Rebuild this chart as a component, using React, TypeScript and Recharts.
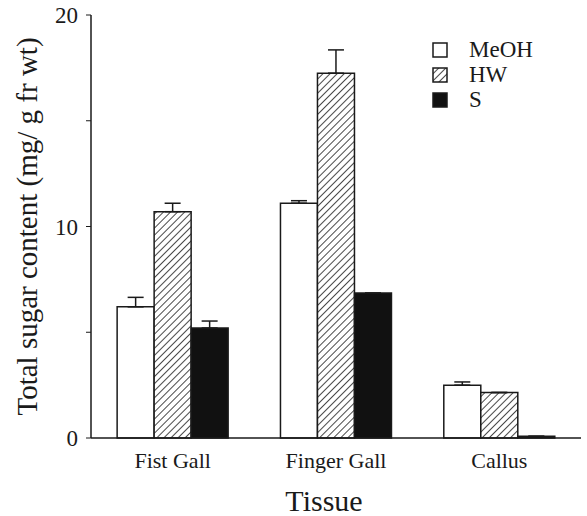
import React from 'react';
import { BarChart, Bar, XAxis, YAxis, ErrorBar } from 'recharts';

const categories = ['Fist Gall', 'Finger Gall', 'Callus'];
const meoh = [6.2, 11.1, 2.5];
const meohErr = [0.45, 0.12, 0.15];
const hw = [10.7, 17.25, 2.15];
const hwErr = [0.4, 1.1, 0];
const sugarS = [5.2, 6.85, 0.08];
const sErr = [0.33, 0, 0];
const yTicks = [0, 5, 10, 15, 20];

const series = [
  { key: 'meoh', name: 'MeOH', fill: '#fff' },
  { key: 'hw', name: 'HW', fill: 'url(#hatch)' },
  { key: 's', name: 'S', fill: '#111' },
];

const data = categories.map((c, i) => ({
  tissue: c,
  meoh: meoh[i],
  meohErr: [0, meohErr[i]],
  hw: hw[i],
  hwErr: [0, hwErr[i]],
  s: sugarS[i],
  sErr: [0, sErr[i]],
}));

const font = '"Liberation Serif", "DejaVu Serif", serif';
const ink = '#1a1a1a';

function Hatch({ id }: { id: string }) {
  return (
    <pattern id={id} width="5" height="5" patternUnits="userSpaceOnUse" patternTransform="rotate(45)">
      <rect width="5" height="5" fill="#fff" />
      <line x1="0" y1="0" x2="0" y2="5" stroke={ink} strokeWidth="1.6" />
    </pattern>
  );
}

function YLabel(props: any) {
  const vb = props.viewBox;
  const cx = vb.x + 27;
  const cy = vb.y + vb.height / 2;
  return (
    <text x={cx} y={cy} transform={`rotate(-90 ${cx} ${cy})`} textAnchor="middle" dominantBaseline="central"
      style={{ fontFamily: font, fontSize: 29, fill: ink }}>
      Total sugar content (mg/ g fr wt)
    </text>
  );
}

// x-axis title sits a little left of the plot centre in the original
function XLabel(props: any) {
  const vb = props.viewBox;
  return (
    <text x={vb.x + vb.width / 2 - 12} y={vb.y + vb.height - 5} textAnchor="middle"
      style={{ fontFamily: font, fontSize: 30, fill: ink }}>
      Tissue
    </text>
  );
}

export default function App() {
  return (
    <div style={{ position: 'absolute', left: 0, top: 0, width: 587, height: 516, background: '#fff' }}>
      <BarChart width={587} height={516} data={data} margin={{ top: 15, right: 6, left: 0, bottom: 0 }}
        barCategoryGap="16%" barGap={0}>
        <defs>
          <Hatch id="hatch" />
        </defs>
        <XAxis dataKey="tissue" height={78} tickSize={0} tickMargin={14} axisLine={{ stroke: ink, strokeWidth: 1.5 }}
          tick={{ fill: ink, fontSize: 22, fontFamily: font }}
          label={{ content: XLabel }} />
        <XAxis xAxisId="top" orientation="top" dataKey="tissue" height={0} tick={false} tickLine={false}
          axisLine={{ stroke: ink, strokeWidth: 1.5 }} />
        <YAxis yAxisId="l" width={91} domain={[0, 20]} ticks={yTicks} tickSize={5} tickMargin={8}
          interval={0} axisLine={{ stroke: ink, strokeWidth: 1.5 }} tickLine={{ stroke: ink }}
          tickFormatter={(v: number) => (v % 10 === 0 ? String(v) : '')}
          tick={{ fill: ink, fontSize: 23, fontFamily: font }}
          label={{ content: YLabel }} />
        <YAxis yAxisId="r" orientation="right" width={0} domain={[0, 20]} tick={false} tickLine={false}
          axisLine={{ stroke: ink, strokeWidth: 1.5 }} />
        {series.map((sr) => (
          <Bar key={sr.key} yAxisId="l" dataKey={sr.key} name={sr.name} fill={sr.fill} stroke={ink} strokeWidth={1.5}
            isAnimationActive={false}>
            <ErrorBar dataKey={`${sr.key}Err`} width={8} stroke={ink} strokeWidth={1.5} direction="y" />
          </Bar>
        ))}
      </BarChart>
      <div style={{ position: 'absolute', left: 432, top: 37, fontFamily: font, fontSize: 23, color: ink, lineHeight: '25px' }}>
        {series.map((sr) => (
          <div key={sr.key} style={{ display: 'flex', alignItems: 'center', height: 25 }}>
            <svg width={16} height={16} style={{ marginRight: 21 }}>
              <defs>
                <Hatch id={`lg-${sr.key}`} />
              </defs>
              <rect x={1} y={1} width={14} height={14} fill={sr.key === 'hw' ? `url(#lg-${sr.key})` : sr.fill}
                stroke={ink} strokeWidth={1.5} />
            </svg>
            <span>{sr.name}</span>
          </div>
        ))}
      </div>
    </div>
  );
}
